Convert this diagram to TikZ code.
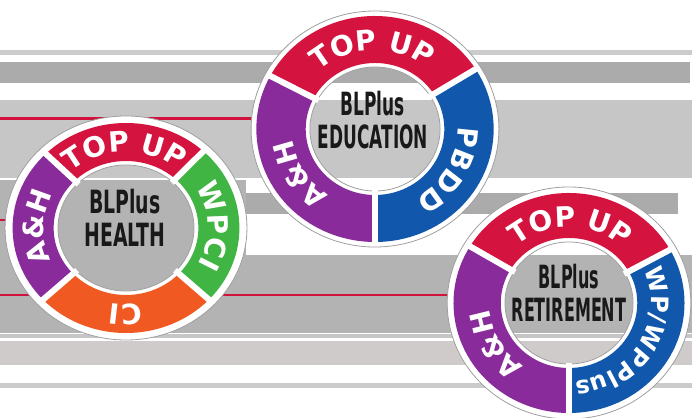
\documentclass[tikz,border=0pt]{standalone}
\usepackage{fontspec}
\setmainfont{Liberation Sans}
\newfontfamily\heavyfont{DejaVu Sans}
\usetikzlibrary{calc}
\usetikzlibrary{decorations.text}

\definecolor{ringred}{HTML}{D4143E}
\definecolor{ringpurple}{HTML}{8A2B9B}
\definecolor{ringgreen}{HTML}{41B543}
\definecolor{ringorange}{HTML}{F05A22}
\definecolor{ringblue}{HTML}{1157AC}
\definecolor{linered}{HTML}{D2123C}
\definecolor{stripepale}{HTML}{CBCBCB}
\definecolor{stripemid}{HTML}{C6C6C6}
\definecolor{stripedark}{HTML}{ABABAB}
\definecolor{stripegrey}{HTML}{B3B3B3}
\definecolor{stripepink}{HTML}{CFCBCA}

\newcommand{\ringfont}{\heavyfont\bfseries\fontsize{28}{28}\selectfont}
\newcommand{\smallringfont}{\heavyfont\bfseries\fontsize{24}{24}\selectfont}

\tikzset{
    ringbase/.style={fill=white, draw=gray!75, line width=0.8pt, even odd rule},
    gap/.style={white, line width=6pt},
    ringtext/.style={decorate, decoration={text along path, text align=center, text color=white}},
    centertext/.style={text=black!90, font=\heavyfont\bfseries\fontsize{32}{33}\selectfont, align=center},
}

\begin{document}
\begin{tikzpicture}[x=1pt, y=1pt]
    \useasboundingbox (0,0) rectangle (692,417);

    % background stripes
    \fill[stripepale] (0,362) rectangle (692,367);
    \fill[stripedark] (0,334) rectangle (690,355);
    \fill[stripemid] (0,239) rectangle (692,317);
    \fill[linered] (0,297) rectangle (300,300);
    \fill[stripegrey] (0,84) rectangle (246,237);
    \fill[stripedark] (246,203) rectangle (678,224);
    \fill[stripegrey] (246,84) rectangle (692,162);
    \fill[linered] (0,121) rectangle (460,123);
    \fill[linered] (0,196) rectangle (12,198);
    \fill[stripemid] (0,79) rectangle (692,83);
    \fill[stripepink] (0,52) rectangle (692,76);
    \fill[stripepale] (0,29) rectangle (692,34);

    \coordinate (health) at (126,189);
    \coordinate (education) at (375,288);
    \coordinate (retirement) at (569,114);

    % health
    \begin{scope}[shift={(health)}, xscale=1.08]
        \filldraw[ringbase] (0,0) circle[radius=112] (0,0) circle[radius=63];
        \fill[ringred] (47:105) arc[start angle=47, end angle=135, radius=105] -- (135:67) arc[start angle=135, end angle=47, radius=67] -- cycle;
        \fill[ringgreen] (-43:105) arc[start angle=-43, end angle=47, radius=105] -- (47:67) arc[start angle=47, end angle=-43, radius=67] -- cycle;
        \fill[ringorange] (-137:105) arc[start angle=-137, end angle=-43, radius=105] -- (-43:67) arc[start angle=-43, end angle=-137, radius=67] -- cycle;
        \fill[ringpurple] (135:105) arc[start angle=135, end angle=223, radius=105] -- (223:67) arc[start angle=223, end angle=135, radius=67] -- cycle;
        \draw[gap] (47:62) -- (47:108);
        \draw[gap] (135:62) -- (135:108);
        \draw[gap] (-43:62) -- (-43:108);
        \draw[gap] (-137:62) -- (-137:108);
        \path[ringtext, decoration={text={|\ringfont|TOP UP}}] (135:76) arc[start angle=135, end angle=47, radius=76];
        \path[ringtext, decoration={text={|\ringfont|WPCI}}] (47:76) arc[start angle=47, end angle=-43, radius=76];
        \path[ringtext, decoration={text={|\ringfont|CI}}] (-43:76) arc[start angle=-43, end angle=-137, radius=76];
        \path[ringtext, decoration={text={|\ringfont|A{\&}H}}] (223:76) arc[start angle=223, end angle=135, radius=76];
        \node[centertext, xscale=0.59] (healthname) at (-1,10) {BLPlus\\HEALTH};
    \end{scope}

    % education
    \begin{scope}[shift={(education)}, xscale=1.05]
        \filldraw[ringbase] (0,0) circle[radius=118] (0,0) circle[radius=62];
        \fill[ringred] (32:113) arc[start angle=32, end angle=152, radius=113] -- (152:66) arc[start angle=152, end angle=32, radius=66] -- cycle;
        \fill[ringblue] (-90:113) arc[start angle=-90, end angle=32, radius=113] -- (32:66) arc[start angle=32, end angle=-90, radius=66] -- cycle;
        \fill[ringpurple] (152:113) arc[start angle=152, end angle=270, radius=113] -- (270:66) arc[start angle=270, end angle=152, radius=66] -- cycle;
        \draw[gap] (32:61) -- (32:116);
        \draw[gap] (152:61) -- (152:116);
        \draw[gap] (-90:61) -- (-90:116);
        \path[ringtext, decoration={text={|\ringfont|TOP UP}}] (152:79) arc[start angle=152, end angle=32, radius=79];
        \path[ringtext, decoration={text={|\ringfont|PBDD}}] (32:79) arc[start angle=32, end angle=-90, radius=79];
        \path[ringtext, decoration={text={|\ringfont|A{\&}H}}] (270:79) arc[start angle=270, end angle=152, radius=79];
        \node[centertext, xscale=0.53] (educationname) at (-2,9) {BLPlus\\EDUCATION};
    \end{scope}

    % retirement
    \begin{scope}[shift={(retirement)}, xscale=1.05]
        \filldraw[ringbase] (0,0) circle[radius=116] (0,0) circle[radius=61];
        \fill[ringred] (29:110) arc[start angle=29, end angle=149, radius=110] -- (149:65) arc[start angle=149, end angle=29, radius=65] -- cycle;
        \fill[ringblue] (-90:110) arc[start angle=-90, end angle=29, radius=110] -- (29:65) arc[start angle=29, end angle=-90, radius=65] -- cycle;
        \fill[ringpurple] (149:110) arc[start angle=149, end angle=270, radius=110] -- (270:65) arc[start angle=270, end angle=149, radius=65] -- cycle;
        \draw[gap] (29:60) -- (29:113);
        \draw[gap] (149:60) -- (149:113);
        \draw[gap] (-90:60) -- (-90:113);
        \path[ringtext, decoration={text={|\ringfont|TOP UP}}] (149:76) arc[start angle=149, end angle=29, radius=76];
        \path[ringtext, decoration={text={|\smallringfont|WP/WPPlus}}] (29:78) arc[start angle=29, end angle=-90, radius=78];
        \path[ringtext, decoration={text={|\ringfont|A{\&}H}}] (270:76) arc[start angle=270, end angle=149, radius=76];
        \node[centertext, xscale=0.5] (retirementname) at (0,10) {BLPlus\\RETIREMENT};
    \end{scope}
\end{tikzpicture}
\end{document}
